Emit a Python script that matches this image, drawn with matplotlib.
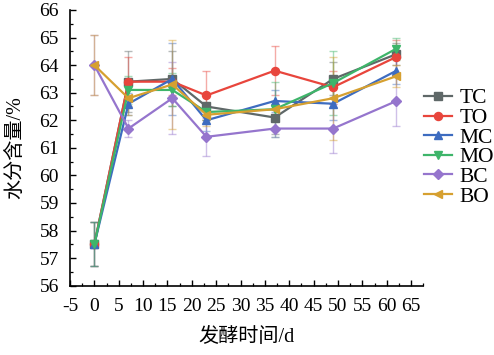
import matplotlib
matplotlib.use("Agg")
import matplotlib.pyplot as plt
from matplotlib.ticker import MultipleLocator

plt.rcParams["axes.unicode_minus"] = False

days = [0, 7, 16, 23, 37, 49, 62]
labels = ["TC", "TO", "MC", "MO", "BC", "BO"]
TC = [57.5, 63.4, 63.5, 62.5, 62.1, 63.5, 64.4]
TO = [57.5, 63.4, 63.4, 62.9, 63.8, 63.2, 64.3]
MC = [57.5, 62.6, 63.5, 62.0, 62.7, 62.6, 63.8]
MO = [57.5, 63.1, 63.1, 62.3, 62.4, 63.35, 64.6]
BC = [64.0, 61.7, 62.8, 61.4, 61.7, 61.7, 62.7]
BO = [64.0, 62.8, 63.3, 62.2, 62.4, 62.8, 63.6]
TC_err = [0.8, 1.1, 1.0, 0.5, 0.6, 0.6, 0.4]
TO_err = [0.8, 0.9, 0.5, 0.9, 0.9, 0.6, 0.6]
MC_err = [0.8, 0.4, 1.3, 0.4, 0.4, 0.6, 0.5]
MO_err = [0.8, 0.5, 0.6, 0.3, 1.0, 1.15, 0.4]
BC_err = [1.1, 0.3, 1.3, 0.7, 0.3, 0.9, 0.9]
BO_err = [1.1, 0.6, 1.6, 0.4, 0.3, 1.5, 0.4]

series = [TC, TO, MC, MO, BC, BO]
errs = [TC_err, TO_err, MC_err, MO_err, BC_err, BO_err]
colors = ["#5f6868", "#e8453c", "#3d6cc0", "#3eb56a", "#9575cd", "#d6a030"]
markers = ["s", "o", "^", "v", "D", "<"]

serif = ["Liberation Serif", "Noto Sans CJK SC"]
cjk = ["Liberation Serif", "Noto Sans CJK SC"]

fig = plt.figure(figsize=(4.94, 3.55), dpi=100)
ax = fig.add_axes([70/494, 1-285.7/355, (423.3-70)/494, (285.7-10)/355])

handles = []
for y, e, c, m, lab in zip(series, errs, colors, markers, labels):
    ax.errorbar(days, y, yerr=e, fmt="none", ecolor=c, alpha=0.45,
                elinewidth=1.0, capsize=3, capthick=1.0, zorder=2)
    h, = ax.plot(days, y, color=c, marker=m, markersize=5.8 if m != "D" else 5.0,
                 linewidth=1.6, label=lab, zorder=3)
    handles.append(h)

ax.set_xlim(-5, 67.5)
ax.set_ylim(56, 66)
ax.set_xticks(range(-5, 70, 5))
ax.xaxis.set_minor_locator(MultipleLocator(2.5))
ax.set_yticks(range(56, 67, 1))
ax.yaxis.set_minor_locator(MultipleLocator(0.5))
for s in ["top", "right"]:
    ax.spines[s].set_visible(False)
for s in ["left", "bottom"]:
    ax.spines[s].set_linewidth(1.2)
ax.tick_params(which="major", direction="in", length=4.5, width=1.0,
               labelsize=14)
ax.tick_params(which="minor", direction="in", length=2.5, width=0.9)
ax.tick_params(axis="x", which="major", pad=9)
ax.tick_params(axis="y", which="major", pad=8.0)
for t in ax.get_xticklabels() + ax.get_yticklabels():
    t.set_fontfamily(serif)

ax.set_xlabel("发酵时间/d", fontsize=14.5, family=cjk, labelpad=9)
ax.set_ylabel("水分含量/%", fontsize=14.5, family=cjk, labelpad=10)

fig.legend(handles=handles, labels=labels, loc="center left",
           bbox_to_anchor=(424/494, 1-147.5/355), frameon=False,
           prop={"family": serif, "size": 15.5}, borderpad=0, borderaxespad=0,
           handlelength=1.3, handletextpad=0.35, labelspacing=-0.02)

fig.savefig("out.png", dpi=100)
